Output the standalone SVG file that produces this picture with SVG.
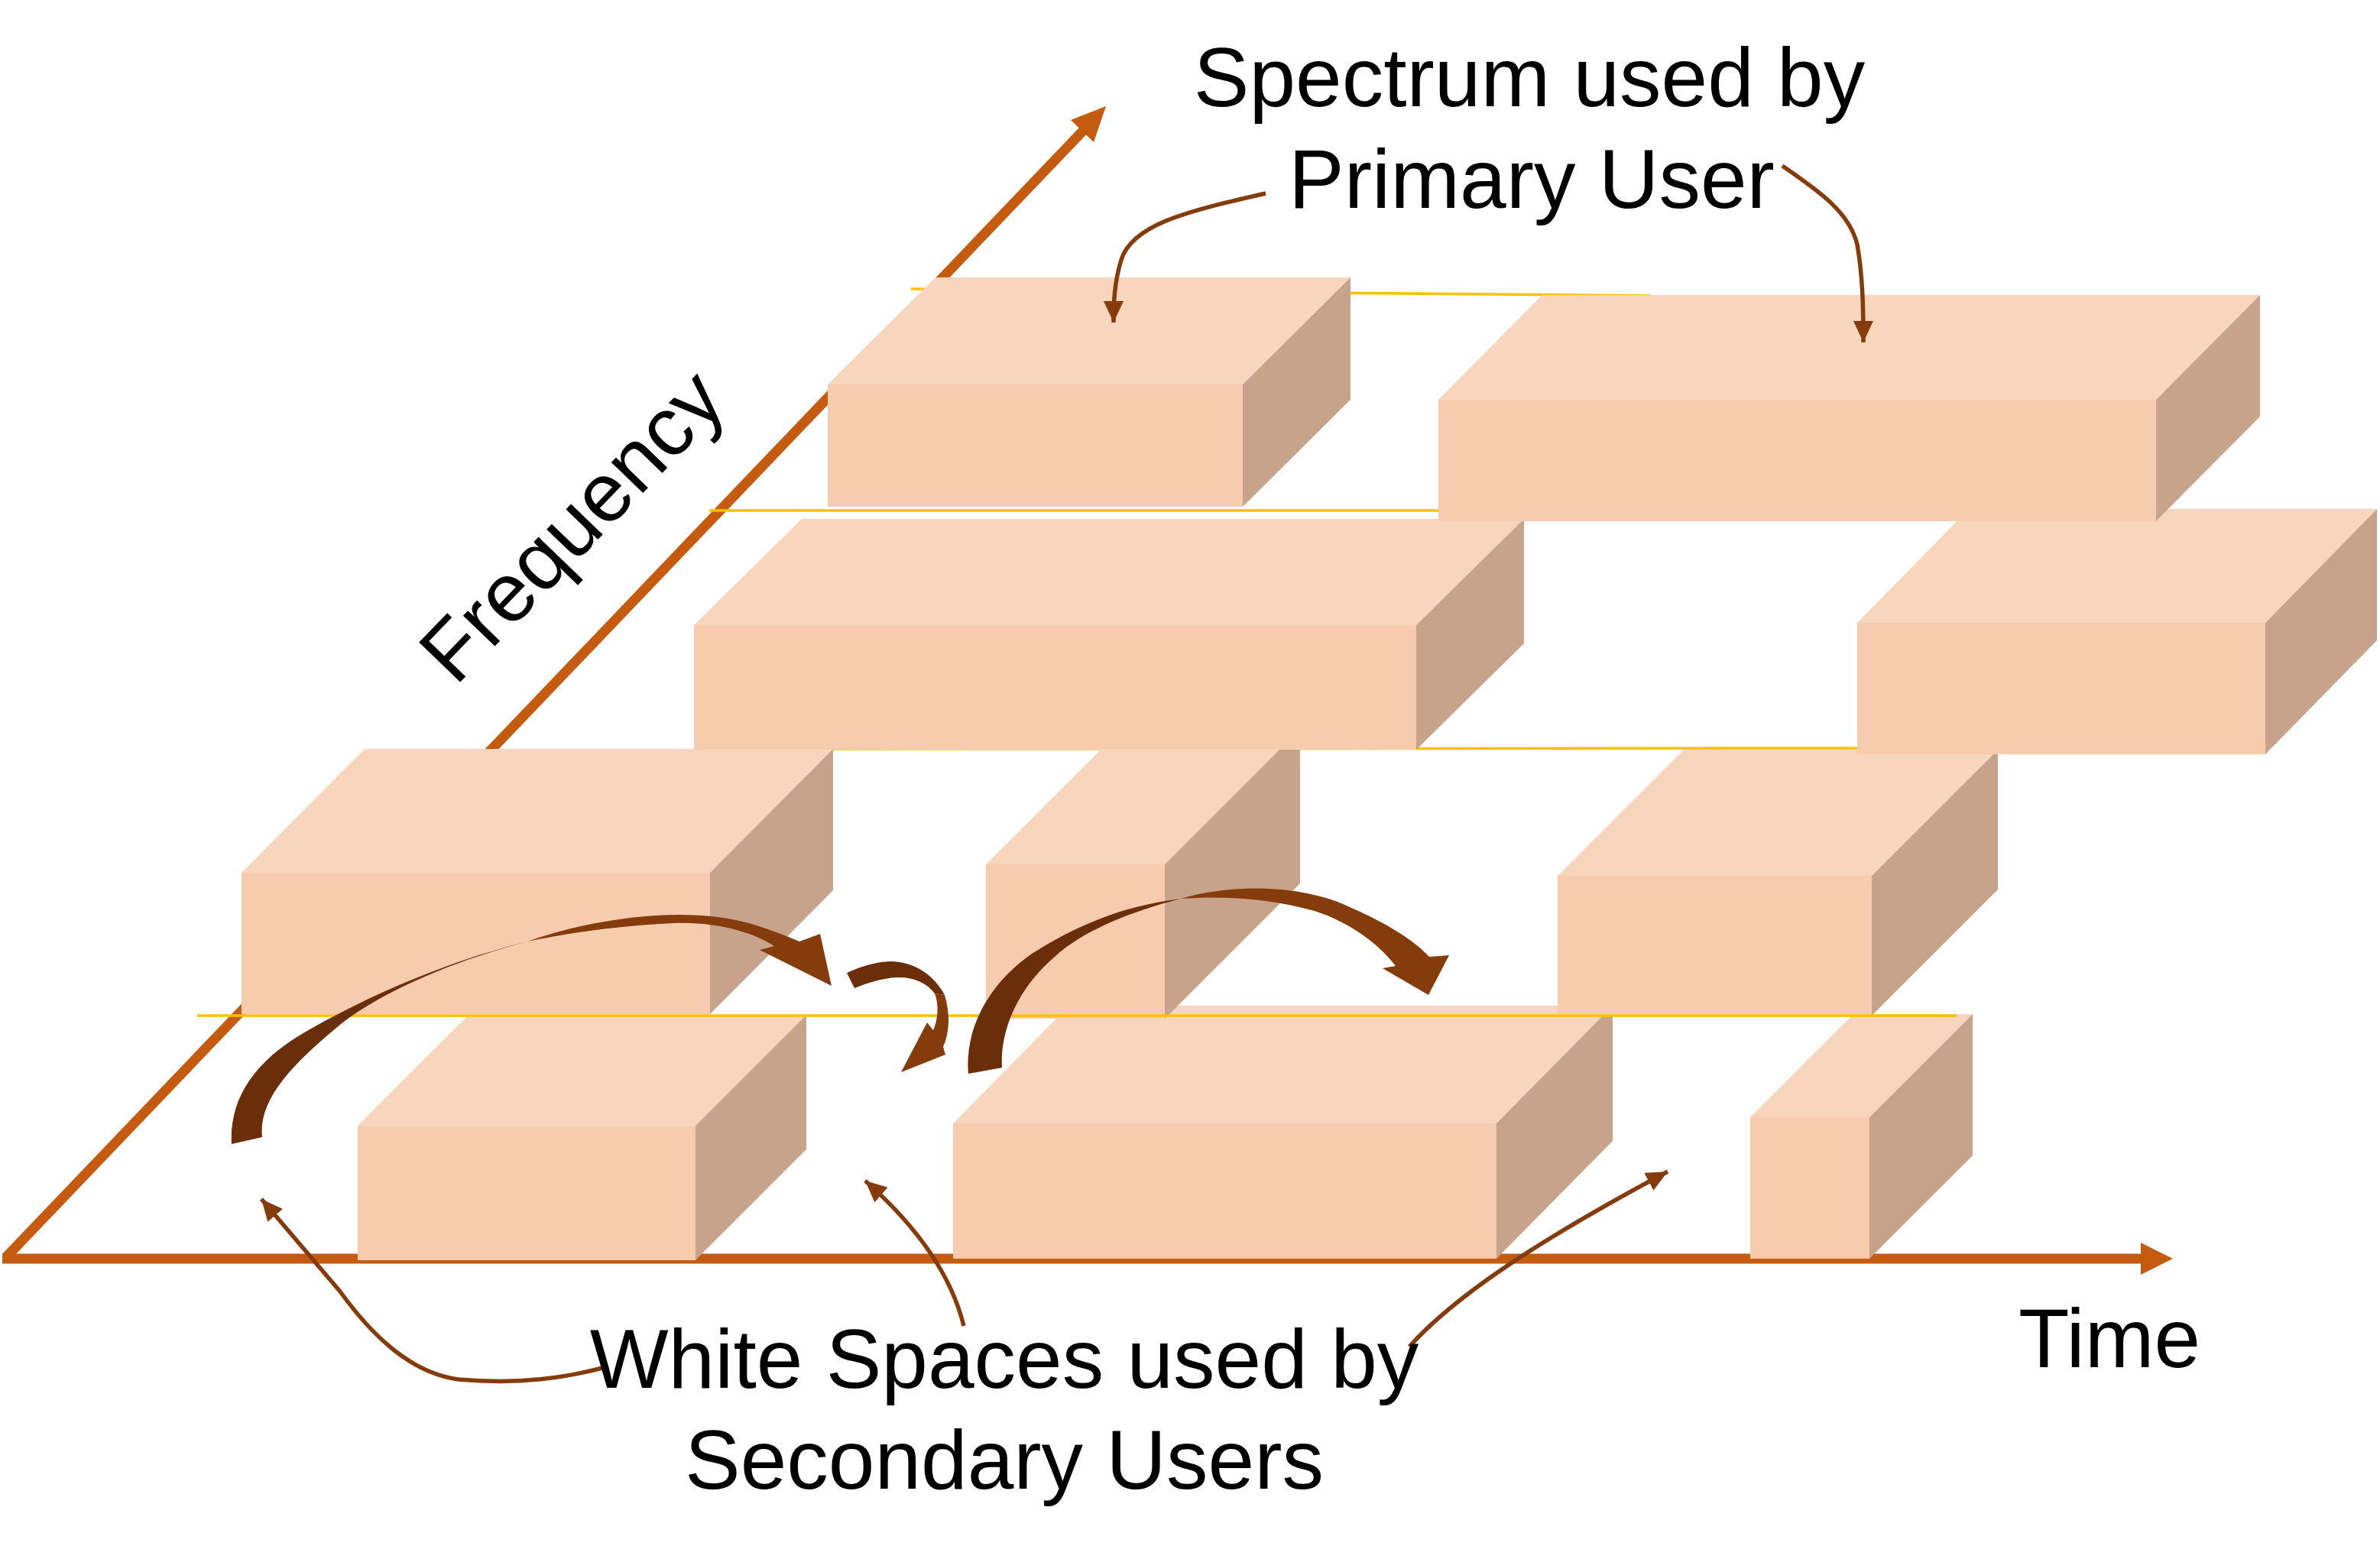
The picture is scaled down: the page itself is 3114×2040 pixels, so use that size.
<svg xmlns="http://www.w3.org/2000/svg" width="3114" height="2040" viewBox="0 0 3114 2040">
<style>
.top{fill:#F8D5BD}
.front{fill:#F7CBAD}
.side{fill:#C8A38B}
.axis{stroke:#C55A11;fill:none;stroke-width:13}
.axh{fill:#C55A11}
.yl{stroke:#FFC000;stroke-width:3.5;fill:none}
.dk{fill:#6A2F0A}
.lt{fill:#843C0C}
.conn{stroke:#843C0C;stroke-width:5.5;fill:none;marker-end:url(#ah)}
.txt{font-family:"Liberation Sans",Arial,sans-serif;font-size:109px;fill:#000}
</style>
<defs>
<marker id="ah" markerUnits="userSpaceOnUse" markerWidth="30" markerHeight="28" viewBox="0 0 30 28" refX="28" refY="13" orient="auto">
<path d="M0,0 L28,13 L0,26 z" fill="#843C0C"/>
</marker>
</defs>
<rect width="3114" height="2040" fill="#fff"/>

<g id="axes">
<line class="axis" x1="8" y1="1645" x2="1420" y2="168" stroke-width="12"/>
<polygon class="axh" points="1447,139 1431,186 1401,157"/>
<line class="axis" x1="3" y1="1647" x2="2805" y2="1647"/>
<polygon class="axh" points="2801,1626 2843,1647 2801,1668"/>
</g>

<g id="guides-back">
<line class="yl" x1="1192" y1="378" x2="2160" y2="387"/>
<line class="yl" x1="928" y1="668" x2="1882" y2="668"/>
<line class="yl" x1="1090" y1="980" x2="2430" y2="979"/>
</g>

<g id="box-H">
<polygon class="top" points="468,1473 613,1328 1055,1328 910,1473"/>
<rect class="front" x="468" y="1473" width="442" height="176"/>
<polygon class="side" points="910,1473 1055,1328 1055,1504 910,1649"/>
</g>
<g id="box-I">
<polygon class="top" points="1247,1470 1399,1316 2110,1316 1958,1470"/>
<rect class="front" x="1247" y="1470" width="711" height="177"/>
<polygon class="side" points="1958,1470 2110,1316 2110,1493 1958,1647"/>
</g>
<g id="box-J">
<polygon class="top" points="2290,1462 2425,1327 2581,1327 2446,1462"/>
<rect class="front" x="2290" y="1462" width="156" height="185"/>
<polygon class="side" points="2446,1462 2581,1327 2581,1512 2446,1647"/>
</g>

<g id="box-E">
<polygon class="top" points="316,1142 477,980 1090,980 929,1142"/>
<rect class="front" x="316" y="1142" width="613" height="185"/>
<polygon class="side" points="929,1142 1090,980 1090,1165 929,1327"/>
</g>
<g id="box-F">
<polygon class="top" points="1290,1131 1467,954 1701,954 1524,1131"/>
<rect class="front" x="1290" y="1131" width="234" height="202"/>
<polygon class="side" points="1524,1131 1701,954 1701,1156 1524,1333"/>
</g>
<g id="box-G">
<polygon class="top" points="2038,1146 2203,981 2614,981 2449,1146"/>
<rect class="front" x="2038" y="1146" width="411" height="183"/>
<polygon class="side" points="2449,1146 2614,981 2614,1164 2449,1329"/>
</g>

<g id="box-C">
<polygon class="top" points="908,818 1049,679 1994,679 1853,818"/>
<rect class="front" x="908" y="818" width="945" height="163"/>
<polygon class="side" points="1853,818 1994,679 1994,842 1853,981"/>
</g>
<g id="box-D">
<polygon class="top" points="2430,815 2576,666 3110,666 2964,815"/>
<rect class="front" x="2430" y="815" width="534" height="172"/>
<polygon class="side" points="2964,815 3110,666 3110,838 2964,987"/>
</g>

<g id="box-A">
<polygon class="top" points="1083,503 1224,363 1767,363 1626,503"/>
<rect class="front" x="1083" y="503" width="543" height="160"/>
<polygon class="side" points="1626,503 1767,363 1767,523 1626,663"/>
</g>
<g id="box-B">
<polygon class="top" points="1882,523 2018,386 2957,386 2821,523"/>
<rect class="front" x="1882" y="523" width="939" height="159"/>
<polygon class="side" points="2821,523 2957,386 2957,545 2821,682"/>
</g>

<g id="guides-front">
<line class="yl" x1="258" y1="1329" x2="2560" y2="1329"/>
</g>

<g id="hop-arrows">
<path class="dk" d="M303,1497 C300,1440 330,1390 400,1350 C470,1310 570,1262 690,1232 C600,1256 500,1295 440,1345 C380,1395 338,1440 343,1488 Z"/>
<path class="lt" d="M690,1232 C780,1200 900,1185 980,1208 C1010,1217 1030,1225 1046,1232 L1073,1222 L1088,1290 L994,1243 L1013,1238 C990,1222 940,1205 880,1208 C800,1212 740,1222 690,1232 Z"/>
<path class="dk" d="M1108,1273 C1130,1263 1150,1258 1167,1258 C1197,1259 1222,1276 1236,1302 L1223,1300 C1212,1285 1193,1278 1173,1279 C1155,1280 1135,1286 1118,1293 Z"/>
<path class="lt" d="M1236,1302 C1243,1325 1243,1350 1234,1370 L1237,1380 L1179,1403 L1213,1338 L1221,1348 C1227,1335 1229,1315 1223,1300 Z"/>
<path class="dk" d="M1267,1405 C1262,1350 1290,1290 1350,1248 C1410,1210 1470,1185 1545,1176 C1490,1190 1420,1215 1380,1252 C1335,1290 1308,1345 1311,1397 Z"/>
<path class="lt" d="M1545,1176 C1600,1160 1680,1155 1750,1180 C1810,1205 1850,1230 1870,1252 L1896,1250 L1869,1302 L1809,1267 L1826,1264 C1800,1230 1760,1205 1720,1192 C1660,1175 1600,1172 1545,1176 Z"/>
</g>

<g id="connectors">
<path class="conn" d="M1656,253 C1560,275 1482,292 1467,340 C1458,370 1457,395 1457,422"/>
<path class="conn" d="M2332,217 C2380,250 2420,278 2430,320 C2437,360 2438,400 2438,448"/>
<path class="conn" d="M796,1788 C740,1803 680,1812 600,1805 C540,1797 490,1752 445,1690 L342,1569"/>
<path class="conn" d="M1261,1735 C1245,1670 1200,1605 1132,1545"/>
<path class="conn" d="M1844,1762 C1900,1700 2000,1630 2182,1533"/>
</g>

<g id="labels">
<text class="txt" x="2001" y="139" text-anchor="middle">Spectrum used by</text>
<text class="txt" x="2004" y="272" text-anchor="middle">Primary User</text>
<text class="txt" x="1314" y="1816" text-anchor="middle">White Spaces used by</text>
<text class="txt" x="1314" y="1948" text-anchor="middle">Secondary Users</text>
<text class="txt" x="2641" y="1789">Time</text>
<text class="txt" transform="translate(596,899) rotate(-46)">Frequency</text>
</g>
</svg>
